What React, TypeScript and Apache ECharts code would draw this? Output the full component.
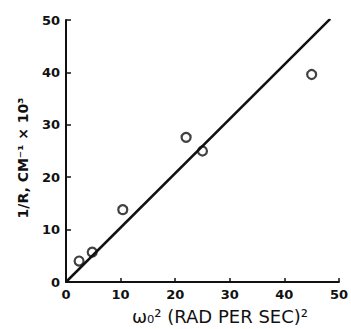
import React, { useEffect, useRef } from "react";
import * as echarts from "echarts";

const xTicks = [0, 10, 20, 30, 40, 50];
const yTicks = [0, 10, 20, 30, 40, 50];
const omegaSq = [2.4, 4.8, 10.4, 22.0, 25.0, 45.0];
const invR = [4.0, 5.7, 13.8, 27.6, 25.0, 39.6];
const fitX = [0, 48.4];
const fitY = [0, 50.2];

export default function App() {
  const ref = useRef<HTMLDivElement>(null);
  useEffect(() => {
    const chart = echarts.init(ref.current!, null, { renderer: "svg" });
    const font = "DejaVu Sans";
    chart.setOption({
      animation: false,
      backgroundColor: "#ffffff",
      grid: { left: 66, right: 8, top: 20, bottom: 47 },
      xAxis: {
        type: "value",
        min: xTicks[0],
        max: xTicks[xTicks.length - 1],
        interval: 10,
        splitLine: { show: false },
        axisLine: { lineStyle: { color: "#111", width: 2 } },
        axisTick: { inside: true, length: 4, lineStyle: { color: "#111", width: 1.5 } },
        axisLabel: { color: "#111", fontSize: 13, fontFamily: font, fontWeight: "bold", margin: 6 },
      },
      yAxis: {
        type: "value",
        min: yTicks[0],
        max: yTicks[yTicks.length - 1],
        interval: 10,
        splitLine: { show: false },
        axisLine: { lineStyle: { color: "#111", width: 2 } },
        axisTick: { inside: true, length: 5, lineStyle: { color: "#111", width: 1.5 } },
        axisLabel: { color: "#111", fontSize: 13, fontFamily: font, fontWeight: "bold", margin: 6 },
      },
      graphic: [
        {
          type: "text",
          x: 23,
          y: 158,
          rotation: Math.PI / 2,
          style: {
            text: "1/R, CM⁻¹ × 10³",
            fill: "#111",
            font: `bold 14px ${font}`,
            align: "center",
            verticalAlign: "middle",
          },
        },
        {
          type: "text",
          x: 220,
          y: 316,
          style: {
            text: "ω₀² (RAD PER SEC)²",
            fill: "#111",
            font: `18px ${font}`,
            align: "center",
            verticalAlign: "middle",
          },
        },
      ],
      series: [
        {
          type: "line",
          data: fitX.map((x, i) => [x, fitY[i]]),
          symbol: "none",
          lineStyle: { color: "#111", width: 2.5 },
        },
        {
          type: "scatter",
          data: omegaSq.map((x, i) => [x, invR[i]]),
          symbol: "circle",
          symbolSize: 9,
          itemStyle: { color: "#fff", borderColor: "#111", borderWidth: 2.2 },
        },
      ],
    });
    return () => chart.dispose();
  }, []);
  return <div ref={ref} style={{ width: 351, height: 329, position: "absolute", left: 0, top: 0 }} />;
}
